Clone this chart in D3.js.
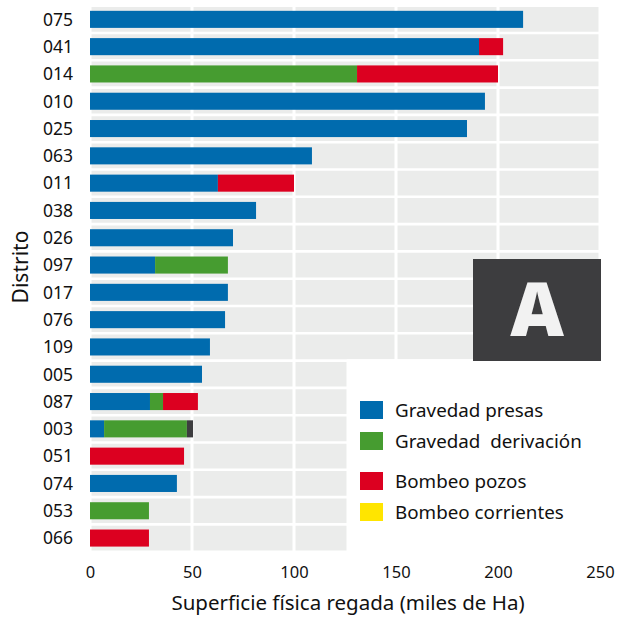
<!DOCTYPE html>
<html><head><meta charset="utf-8">
<script src="https://cdn.jsdelivr.net/npm/d3@7"></script>
<style>body{margin:0;background:#fff}svg{display:block}</style>
</head><body>
<svg id="c" width="617" height="618"></svg>
<script>
const districts = ["075","041","014","010","025","063","011","038","026","097","017","076","109","005","087","003","051","074","053","066"];
const gravedadPresas     = [212.3,190.7,0,193.6,184.8,108.8,62.7,81.4,70.1,31.9,67.6,66.2,58.8,54.9,29.4,6.9,0,42.6,0,0];
const gravedadDerivacion = [0,0,130.9,0,0,0,0,0,0,35.7,0,0,0,0,6.4,40.6,0,0,28.9,0];
const bombeoPozos        = [0,11.8,69.1,0,0,0,37.3,0,0,0,0,0,0,0,17.1,0,46.1,0,0,28.9];
const bombeoCorrientes   = [0,0,0,0,0,0,0,0,0,0,0,0,0,0,0,0,0,0,0,0];
const otros              = [0,0,0,0,0,0,0,0,0,0,0,0,0,0,0,3.0,0,0,0,0];
const seriesNames = ["Gravedad presas","Gravedad  derivación","Bombeo pozos","Bombeo corrientes","otros"];
const seriesColors = ["#006bae","#469c30","#dc0020","#ffe500","#3d3d3f"];
const xTicks = [0,50,100,150,200,250];

const svg = d3.select("#c");
const font = "'Noto Sans', 'Open Sans', sans-serif";
const x = d3.scaleLinear().domain([0,250]).range([90,600]);
const y = d3.scaleBand().domain(districts).range([5.7,551.7]).paddingInner(0.375).paddingOuter(0.1875);
const step = y.step();

// panel
svg.append("rect").attr("x",x(0)).attr("y",5.7).attr("width",x(250)-x(0)).attr("height",551.7-5.7).attr("fill","#ebeceb");
svg.selectAll("line.h").data(d3.range(districts.length+1)).join("line")
  .attr("x1",x(0)).attr("x2",x(250)+2)
  .attr("y1",d=>5.7+d*step).attr("y2",d=>5.7+d*step)
  .attr("stroke","#fff").attr("stroke-width",2.6);
svg.selectAll("line.v").data(xTicks).join("line")
  .attr("x1",d=>x(d)).attr("x2",d=>x(d)).attr("y1",0).attr("y2",553)
  .attr("stroke","#fff").attr("stroke-width",3);
// legend area white
svg.append("rect").attr("x",346.5).attr("y",y("005")-step*0.19-1.2).attr("width",280).attr("height",220).attr("fill","#fff");

// stacked bars
const rows = districts.map((d,i)=>({d, v:[gravedadPresas[i],gravedadDerivacion[i],bombeoPozos[i],bombeoCorrientes[i],otros[i]]}));
const stack = d3.stack().keys([0,1,2,3,4]).value((r,k)=>r.v[k])(rows);
svg.append("g").selectAll("g").data(stack).join("g").attr("fill",(s,i)=>seriesColors[i])
  .selectAll("rect").data(s=>s.filter(p=>p[1]-p[0]>0)).join("rect")
  .attr("x",p=>x(p[0])).attr("width",p=>x(p[1])-x(p[0]))
  .attr("y",p=>y(p.data.d)).attr("height",y.bandwidth());

// y labels
svg.append("g").selectAll("text").data(districts).join("text")
  .attr("x",73).attr("y",d=>y(d)+y.bandwidth()/2).attr("dy","0.36em")
  .attr("text-anchor","end").attr("font-family",font).attr("font-size",17.5).attr("fill","#111").text(d=>d);

// x axis
const xa = svg.append("g").attr("transform","translate(0,560)")
  .call(d3.axisBottom(x).tickValues(xTicks).tickSize(0).tickPadding(6));
xa.select(".domain").remove();
xa.selectAll("text").attr("font-family",font).attr("font-size",16.5).attr("fill","#111");

svg.append("text").attr("x",348).attr("y",610).attr("text-anchor","middle")
  .attr("font-family",font).attr("font-size",20.5).attr("fill","#111").text("Superficie física regada (miles de Ha)");
svg.append("text").attr("transform","translate(28,267) rotate(-90)").attr("text-anchor","middle")
  .attr("font-family",font).attr("font-size",21).attr("fill","#111").text("Distrito");

// A box
svg.append("rect").attr("x",473).attr("y",259).attr("width",128).attr("height",102).attr("fill","#3d3d3f");
svg.append("text").attr("x",537).attr("y",336).attr("text-anchor","middle")
  .attr("font-family","'Open Sans', 'DejaVu Sans', sans-serif").attr("font-weight",800).attr("font-size",74).attr("fill","#f2f2f2").text("A");

// legend
const legY = [401,432,472,503];
const lg = svg.append("g").selectAll("g").data(seriesNames.slice(0,4)).join("g")
  .attr("transform",(d,i)=>`translate(360,${legY[i]})`);
lg.append("rect").attr("width",23).attr("height",18).attr("fill",(d,i)=>seriesColors[i]);
lg.append("text").attr("x",35).attr("y",9).attr("dy","0.36em").attr("font-family",font).attr("font-size",18.8)
  .attr("fill","#111").style("white-space","pre").text(d=>d);
</script>
</body></html>
